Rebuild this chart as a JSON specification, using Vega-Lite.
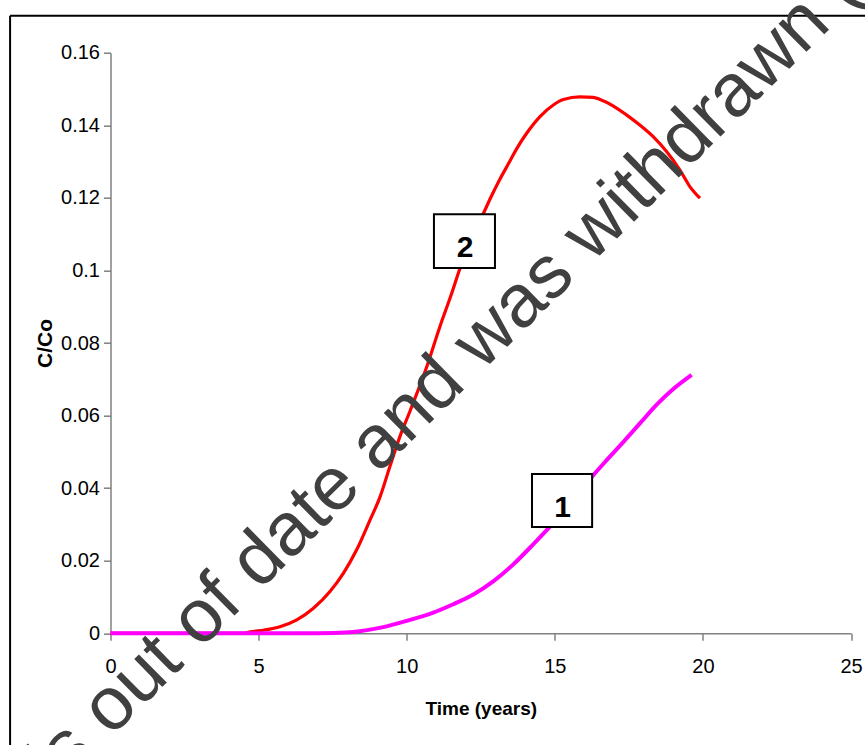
{
  "$schema": "https://vega.github.io/schema/vega-lite/v6.json",
  "width": 740.5,
  "height": 580.6,
  "autosize": {"type": "none"},
  "padding": {"left": 110.5, "top": 52.7, "right": 14, "bottom": 111.7},
  "background": "white",
  "config": {
    "view": {"stroke": null},
    "font": "Liberation Sans",
    "axis": {
      "domainColor": "#808080",
      "domainWidth": 1.5,
      "tickColor": "#808080",
      "tickWidth": 1.5,
      "tickSize": 7,
      "grid": false,
      "labelFont": "Liberation Sans",
      "labelFontSize": 20,
      "labelColor": "black",
      "labelFlush": false,
      "titleFont": "Liberation Sans",
      "titleFontWeight": "bold",
      "titleColor": "black"
    }
  },
  "datasets": {
    "curves": [
      {"series": "2", "t": 0, "c": 0},
      {"series": "2", "t": 4.5, "c": 0},
      {"series": "2", "t": 4.72, "c": 0.0004},
      {"series": "2", "t": 5.2, "c": 0.0009},
      {"series": "2", "t": 5.72, "c": 0.0018},
      {"series": "2", "t": 6.29, "c": 0.0037},
      {"series": "2", "t": 6.85, "c": 0.0069},
      {"series": "2", "t": 7.41, "c": 0.0115},
      {"series": "2", "t": 7.86, "c": 0.0165},
      {"series": "2", "t": 8.31, "c": 0.023},
      {"series": "2", "t": 8.76, "c": 0.0312},
      {"series": "2", "t": 9.1, "c": 0.0376},
      {"series": "2", "t": 9.43, "c": 0.0459},
      {"series": "2", "t": 9.77, "c": 0.0542},
      {"series": "2", "t": 10.11, "c": 0.0612},
      {"series": "2", "t": 10.68, "c": 0.0735},
      {"series": "2", "t": 11.12, "c": 0.0845},
      {"series": "2", "t": 11.52, "c": 0.0937},
      {"series": "2", "t": 11.8, "c": 0.1006},
      {"series": "2", "t": 12.2, "c": 0.109},
      {"series": "2", "t": 12.59, "c": 0.1157},
      {"series": "2", "t": 12.85, "c": 0.1203},
      {"series": "2", "t": 13.15, "c": 0.1252},
      {"series": "2", "t": 13.49, "c": 0.1302},
      {"series": "2", "t": 13.71, "c": 0.1335},
      {"series": "2", "t": 14.05, "c": 0.1378},
      {"series": "2", "t": 14.5, "c": 0.1424},
      {"series": "2", "t": 14.95, "c": 0.1456},
      {"series": "2", "t": 15.29, "c": 0.1471},
      {"series": "2", "t": 15.85, "c": 0.1478},
      {"series": "2", "t": 16.3, "c": 0.1477},
      {"series": "2", "t": 16.53, "c": 0.1471},
      {"series": "2", "t": 16.98, "c": 0.1453},
      {"series": "2", "t": 17.43, "c": 0.1428},
      {"series": "2", "t": 17.88, "c": 0.14},
      {"series": "2", "t": 18.33, "c": 0.1368},
      {"series": "2", "t": 18.78, "c": 0.1327},
      {"series": "2", "t": 19.23, "c": 0.1276},
      {"series": "2", "t": 19.56, "c": 0.1231},
      {"series": "2", "t": 19.9, "c": 0.1199},
      {"series": "1", "t": 0, "c": 0},
      {"series": "1", "t": 7.0, "c": 0},
      {"series": "1", "t": 8.09, "c": 0.0003},
      {"series": "1", "t": 9.21, "c": 0.0017},
      {"series": "1", "t": 10.11, "c": 0.0037},
      {"series": "1", "t": 10.9, "c": 0.0057},
      {"series": "1", "t": 11.57, "c": 0.008},
      {"series": "1", "t": 12.25, "c": 0.0107},
      {"series": "1", "t": 12.92, "c": 0.0143},
      {"series": "1", "t": 13.6, "c": 0.019},
      {"series": "1", "t": 14.27, "c": 0.0245},
      {"series": "1", "t": 14.78, "c": 0.0289},
      {"series": "1", "t": 15.3, "c": 0.0338},
      {"series": "1", "t": 15.8, "c": 0.0388},
      {"series": "1", "t": 16.3, "c": 0.0436},
      {"series": "1", "t": 16.75, "c": 0.0477},
      {"series": "1", "t": 17.31, "c": 0.0527},
      {"series": "1", "t": 17.88, "c": 0.0579},
      {"series": "1", "t": 18.44, "c": 0.063},
      {"series": "1", "t": 19.0, "c": 0.0673},
      {"series": "1", "t": 19.62, "c": 0.0712}
    ],
    "boxes": [
      {"label": "2", "x1": 10.92, "x2": 12.98, "y1": 0.1007, "y2": 0.1155, "tx": 11.97, "ty": 0.1037},
      {"label": "1", "x1": 14.23, "x2": 16.26, "y1": 0.0293, "y2": 0.0439, "tx": 15.26, "ty": 0.032}
    ]
  },
  "layer": [
    {
      "data": {"name": "curves"},
      "transform": [{"filter": "datum.series === '2'"}],
      "mark": {"type": "line", "color": "#FF0000", "strokeWidth": 3.2, "interpolate": "monotone"},
      "encoding": {
        "x": {
          "field": "t", "type": "quantitative", "title": "Time (years)",
          "scale": {"domain": [0, 25], "nice": false, "zero": false},
          "axis": {"values": [0, 5, 10, 15, 20, 25], "labelPadding": 16.5, "titleFontSize": 19, "titlePadding": 23}
        },
        "y": {
          "field": "c", "type": "quantitative", "title": "C/Co",
          "scale": {"domain": [0, 0.16], "nice": false},
          "axis": {"values": [0, 0.02, 0.04, 0.06, 0.08, 0.1, 0.12, 0.14, 0.16], "format": "~f", "labelPadding": 4, "titleFontSize": 21, "titlePadding": 5}
        }
      }
    },
    {
      "data": {"name": "curves"},
      "transform": [{"filter": "datum.series === '1'"}],
      "mark": {"type": "line", "color": "#FF00FF", "strokeWidth": 4, "interpolate": "monotone"},
      "encoding": {
        "x": {"field": "t", "type": "quantitative"},
        "y": {"field": "c", "type": "quantitative"}
      }
    },
    {
      "data": {"name": "boxes"},
      "mark": {"type": "rect", "fill": "white", "stroke": "black", "strokeWidth": 2},
      "encoding": {
        "x": {"field": "x1", "type": "quantitative"},
        "x2": {"field": "x2"},
        "y": {"field": "y1", "type": "quantitative"},
        "y2": {"field": "y2"}
      }
    },
    {
      "data": {"name": "boxes"},
      "mark": {"type": "text", "fontSize": 30, "fontWeight": "bold", "font": "Liberation Sans", "color": "black", "align": "center", "baseline": "alphabetic"},
      "encoding": {
        "x": {"field": "tx", "type": "quantitative"},
        "y": {"field": "ty", "type": "quantitative"},
        "text": {"field": "label"}
      }
    },
    {
      "data": {"values": [{"edge": "left"}]},
      "mark": {"type": "rule", "color": "black", "strokeWidth": 2},
      "encoding": {
        "x": {"datum": -3.39, "type": "quantitative"},
        "y": {"datum": -0.05, "type": "quantitative"},
        "y2": {"datum": 0.1702}
      }
    },
    {
      "data": {"values": [{"edge": "top"}]},
      "mark": {"type": "rule", "color": "black", "strokeWidth": 2},
      "encoding": {
        "x": {"datum": -3.39, "type": "quantitative"},
        "x2": {"datum": 26},
        "y": {"datum": 0.1702, "type": "quantitative"}
      }
    },
    {
      "data": {"values": [{"note": "is out of date and was withdrawn (", "px": 11.3, "py": 0.071}]},
      "mark": {"type": "text", "angle": -44.6, "fontSize": 75, "font": "Liberation Sans", "color": "#404040", "align": "center", "baseline": "middle"},
      "encoding": {
        "x": {"field": "px", "type": "quantitative"},
        "y": {"field": "py", "type": "quantitative"},
        "text": {"field": "note"}
      }
    }
  ]
}
